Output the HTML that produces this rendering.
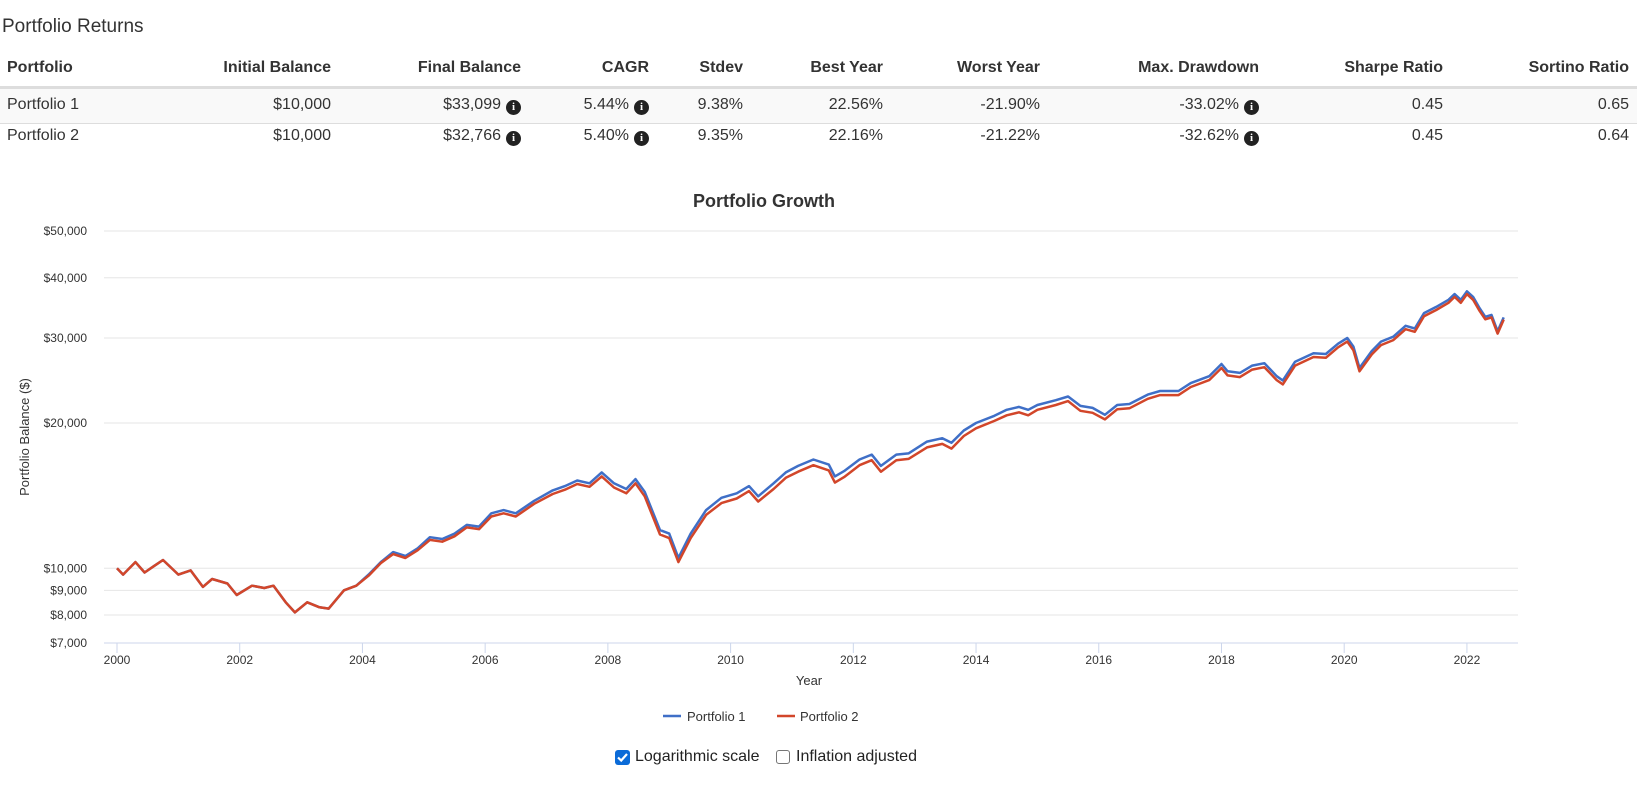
<!DOCTYPE html>
<html><head><meta charset="utf-8">
<style>
body{margin:0;width:1637px;height:787px;background:#fff;font-family:"Liberation Sans",Arial,sans-serif;color:#333;position:relative;overflow:hidden}
.t{position:absolute;white-space:nowrap}
.h{font-weight:bold;font-size:16px;color:#333}
.c{font-size:16px;color:#333}
.r{text-align:right}
.ic{display:inline-block;width:15px;height:15px;border-radius:50%;background:#222;color:#fff;font:bold 11px/15px "Liberation Serif",serif;text-align:center;vertical-align:-1px;margin-left:5px}
</style></head><body>
<div class="t" style="left:2px;top:16px;font-size:19px;color:#333">Portfolio Returns</div>
<div style="position:absolute;left:0;top:86px;width:1637px;height:3px;background:#ddd"></div>
<div style="position:absolute;left:0;top:89px;width:1637px;height:34px;background:#f9f9f9;border-bottom:1px solid #ddd"></div>
<div id="tbl"></div>
<svg id="chart" width="1637" height="787" style="position:absolute;left:0;top:0"></svg>
<div class="t" style="left:615px;top:750px;width:15px;height:15px;border-radius:3px;background:#0b6bd8"><svg width="15" height="15"><path d="M3 7.5 L6.2 10.5 L12 4" stroke="#fff" stroke-width="2.2" fill="none"/></svg></div>
<div class="t" style="left:635px;top:748px;font-size:16px;color:#222">Logarithmic scale</div>
<div class="t" style="left:776px;top:750px;width:12px;height:12px;border:1.5px solid #767676;border-radius:3px;background:#fff"></div>
<div class="t" style="left:796px;top:748px;font-size:16px;color:#222">Inflation adjusted</div>
<script>
const headers=["Portfolio","Initial Balance","Final Balance","CAGR","Stdev","Best Year","Worst Year","Max. Drawdown","Sharpe Ratio","Sortino Ratio"];
const row1=["Portfolio 1","$10,000","$33,099","5.44%","9.38%","22.56%","-21.90%","-33.02%","0.45","0.65"];
const row2=["Portfolio 2","$10,000","$32,766","5.40%","9.35%","22.16%","-21.22%","-32.62%","0.45","0.64"];
const icons=[false,false,true,true,false,false,false,true,false,false];
const colRight=[null,331,521,649,743,883,1040,1259,1443,1629];
const tbl=document.getElementById('tbl');
function cell(txt,ci,top,cls,name,icon){
  const d=document.createElement('div');
  d.className='t '+cls+(ci>0?' r':'');
  
  
  d.style.top=top+'px';
  if(ci===0){d.style.left='7px';}else{d.style.right=(1637-colRight[ci])+'px';}
  d.textContent=txt;
  if(icon){const s=document.createElement('span');s.className='ic';s.textContent='i';
    
    
    d.appendChild(s);}
  tbl.appendChild(d);
}
headers.forEach((h,i)=>cell(h,i,59,'h','header-'+h.toLowerCase().replace(/[^a-z]+/g,'-'),false));
row1.forEach((v,i)=>cell(v,i,96,'c','portfolio-1-cell',icons[i]));
row2.forEach((v,i)=>cell(v,i,127,'c','portfolio-2-cell',icons[i]));
</script>
<script>
const years=[2000.0,2000.1,2000.3,2000.45,2000.6,2000.75,2001.0,2001.2,2001.4,2001.55,2001.8,2001.95,2002.2,2002.4,2002.55,2002.75,2002.9,2003.1,2003.3,2003.45,2003.7,2003.9,2004.1,2004.3,2004.5,2004.7,2004.9,2005.1,2005.3,2005.5,2005.7,2005.9,2006.1,2006.3,2006.5,2006.8,2007.1,2007.3,2007.5,2007.7,2007.9,2008.1,2008.3,2008.45,2008.6,2008.85,2009.0,2009.15,2009.35,2009.6,2009.85,2010.1,2010.3,2010.45,2010.7,2010.9,2011.1,2011.35,2011.6,2011.7,2011.85,2012.1,2012.3,2012.45,2012.7,2012.9,2013.2,2013.45,2013.6,2013.8,2014.0,2014.3,2014.5,2014.7,2014.85,2015.0,2015.3,2015.5,2015.7,2015.9,2016.1,2016.3,2016.5,2016.8,2017.0,2017.3,2017.5,2017.8,2018.0,2018.1,2018.3,2018.5,2018.7,2018.9,2019.0,2019.2,2019.5,2019.7,2019.9,2020.05,2020.15,2020.25,2020.45,2020.6,2020.8,2021.0,2021.15,2021.3,2021.5,2021.7,2021.8,2021.9,2022.0,2022.1,2022.2,2022.3,2022.4,2022.5,2022.6];
const p1=[10000,9700,10300,9800,10100,10400,9700,9900,9150,9500,9300,8800,9200,9100,9200,8500,8100,8500,8300,8250,9000,9200,9700,10300,10800,10600,11000,11600,11500,11800,12300,12200,13000,13200,13000,13800,14500,14800,15200,15000,15800,15000,14600,15300,14400,12000,11800,10500,11800,13200,14000,14300,14800,14100,15000,15800,16300,16800,16400,15500,15900,16800,17200,16300,17200,17300,18300,18600,18200,19300,20000,20700,21300,21600,21300,21800,22300,22700,21700,21500,20800,21800,21900,22900,23300,23300,24200,25000,26500,25600,25400,26300,26600,25000,24500,26800,27900,27800,29200,30000,28800,26000,28200,29500,30200,31800,31400,33800,34800,36000,37000,36000,37500,36500,34700,33200,33500,31000,33100];
const p2=[10000,9700,10300,9800,10100,10400,9700,9900,9150,9500,9300,8800,9200,9100,9200,8500,8100,8500,8300,8250,9000,9200,9650,10250,10700,10500,10900,11450,11350,11650,12150,12050,12800,13000,12800,13600,14250,14550,14950,14750,15500,14700,14300,15000,14100,11750,11550,10300,11550,12900,13650,13950,14450,13750,14600,15400,15850,16350,15950,15050,15450,16350,16750,15850,16750,16850,17800,18100,17700,18800,19500,20200,20750,21050,20750,21300,21800,22200,21200,21000,20350,21350,21450,22450,22850,22850,23750,24550,26000,25100,24900,25800,26100,24550,24050,26300,27400,27300,28700,29500,28300,25600,27750,29000,29700,31300,30900,33300,34300,35500,36500,35500,37000,36000,34250,32800,33100,30650,32766];
const yTicks=[7000,8000,9000,10000,20000,30000,40000,50000];
const yTickLabels=["$7,000","$8,000","$9,000","$10,000","$20,000","$30,000","$40,000","$50,000"];
const xTicks=[2000,2002,2004,2006,2008,2010,2012,2014,2016,2018,2020,2022];
const NS='http://www.w3.org/2000/svg';
const svg=document.getElementById('chart');
const L=104,R=1518,T=231,B=643;
const lmin=Math.log10(7000),lmax=Math.log10(50000);
function yS(v){return B-(Math.log10(v)-lmin)/(lmax-lmin)*(B-T);}
function xS(y){return 117+(y-2000)*61.36;}
function el(tag,attrs,txt){const e=document.createElementNS(NS,tag);for(const k in attrs)e.setAttribute(k,attrs[k]);if(txt!==undefined)e.textContent=txt;svg.appendChild(e);return e;}
yTicks.forEach((v,i)=>{
  const g=el('line',{x1:L,x2:R,y1:yS(v),y2:yS(v),stroke:i===0?'#ccd6eb':'#e6e6e6','stroke-width':1});
  
  
  const t=el('text',{x:87,y:yS(v)+4,'text-anchor':'end','font-size':12,fill:'#333','font-family':'Liberation Sans, sans-serif'},yTickLabels[i]);
  
  
});
xTicks.forEach(v=>{
  const tk=el('line',{x1:xS(v),x2:xS(v),y1:B,y2:B+10,stroke:'#ccd6eb'});
  
  
  const t=el('text',{x:xS(v),y:B+21,'text-anchor':'middle','font-size':12,fill:'#333','font-family':'Liberation Sans, sans-serif'},String(v));
  
  
});
const ct=el('text',{x:764,y:207,'text-anchor':'middle','font-size':18,'font-weight':'bold',fill:'#333','font-family':'Liberation Sans, sans-serif'},'Portfolio Growth');


const xt=el('text',{x:809,y:685,'text-anchor':'middle','font-size':13,fill:'#333','font-family':'Liberation Sans, sans-serif'},'Year');


const yt=el('text',{x:0,y:0,transform:'translate(29,437) rotate(-90)','text-anchor':'middle','font-size':13,fill:'#333','font-family':'Liberation Sans, sans-serif'},'Portfolio Balance ($)');


function pts(arr){return arr.map((v,i)=>xS(years[i]).toFixed(1)+','+yS(v).toFixed(1)).join(' ');}
const l1=el('polyline',{points:pts(p1),fill:'none',stroke:'#3f6fc7','stroke-width':2.5,'stroke-linejoin':'round'});


const l2=el('polyline',{points:pts(p2),fill:'none',stroke:'#d2462a','stroke-width':2.5,'stroke-linejoin':'round'});


const lg1=el('line',{x1:663,x2:681,y1:716,y2:716,stroke:'#3f6fc7','stroke-width':2.5});


const lt1=el('text',{x:687,y:721,'font-size':13,fill:'#333','font-family':'Liberation Sans, sans-serif'},'Portfolio 1');


const lg2=el('line',{x1:777,x2:795,y1:716,y2:716,stroke:'#d2462a','stroke-width':2.5});


const lt2=el('text',{x:800,y:721,'font-size':13,fill:'#333','font-family':'Liberation Sans, sans-serif'},'Portfolio 2');


</script>
</body></html>
